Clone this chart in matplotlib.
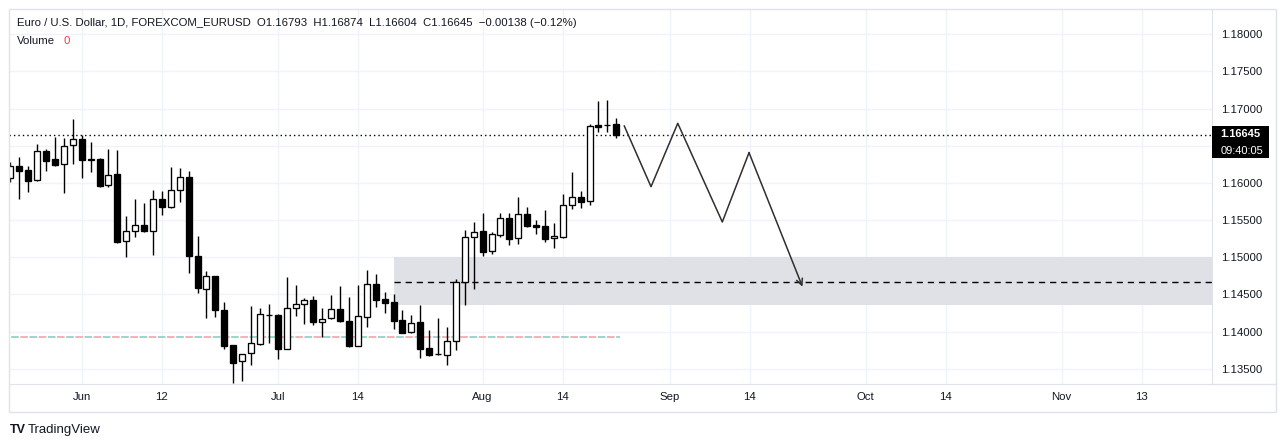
import numpy as np
import pandas as pd
import matplotlib
matplotlib.use('Agg')
import matplotlib.pyplot as plt
import matplotlib.transforms as mtransforms
from matplotlib.patches import Rectangle
from matplotlib.lines import Line2D

# daily bars, first one on 2026-05-20 (business days)
first_day = '2026-05-20'
opens = [1.16066, 1.16228, 1.16174, 1.16035, 1.16426, 1.16318, 1.16251, 1.16506,
         1.16587, 1.16318, 1.16318, 1.15968, 1.16120, 1.15214, 1.15349, 1.15430,
         1.15349, 1.15780, 1.15672, 1.15905, 1.16076, 1.15013, 1.14568, 1.14743,
         1.14286, 1.13819, 1.13600, 1.13707, 1.13836, 1.14219, 1.14223, 1.13769,
         1.14313, 1.14367, 1.14420, 1.14124, 1.14178, 1.14299, 1.14142, 1.13810,
         1.14192, 1.14640, 1.14434, 1.14398, 1.14155, 1.13990, 1.14128, 1.13775,
         1.13694, 1.13678, 1.13873, 1.14671, 1.15272, 1.15349, 1.15084, 1.15303,
         1.15528, 1.15255, 1.15578, 1.15434, 1.15420, 1.15259, 1.15276, 1.15699,
         1.15811, 1.15753, 1.16779, 1.16773, 1.16793]
highs = [1.16282, 1.16345, 1.16232, 1.16524, 1.16456, 1.16622, 1.16600, 1.16860,
         1.16645, 1.16551, 1.16331, 1.16456, 1.16443, 1.15555, 1.15784, 1.15730,
         1.15905, 1.15891, 1.16214, 1.16201, 1.16160, 1.15286, 1.14815, 1.14748,
         1.14398, 1.13825, 1.13698, 1.14344, 1.14313, 1.14371, 1.14232, 1.14734,
         1.14626, 1.14451, 1.14478, 1.14313, 1.14492, 1.14613, 1.14465, 1.14630,
         1.14828, 1.14770, 1.14532, 1.14509, 1.14290, 1.14219, 1.14357, 1.14021,
         1.14178, 1.14057, 1.14703, 1.15366, 1.15470, 1.15591, 1.15336, 1.15595,
         1.15591, 1.15807, 1.15676, 1.15501, 1.15636, 1.15457, 1.15847, 1.16147,
         1.15891, 1.16789, 1.17102, 1.17116, 1.16874]
lows = [1.16012, 1.15780, 1.15882, 1.16030, 1.16164, 1.16232, 1.15868, 1.16259,
        1.16070, 1.16143, 1.15949, 1.15949, 1.15188, 1.15007, 1.15276, 1.15345,
        1.15034, 1.15572, 1.15668, 1.15747, 1.14792, 1.14523, 1.14186, 1.14200,
        1.13765, 1.13304, 1.13339, 1.13554, 1.13823, 1.13842, 1.13634, 1.13761,
        1.14213, 1.14102, 1.14092, 1.13922, 1.14174, 1.14128, 1.13788, 1.13801,
        1.14065, 1.14326, 1.14250, 1.14034, 1.13980, 1.13976, 1.13644, 1.13671,
        1.13690, 1.13543, 1.13752, 1.14353, 1.14568, 1.15013, 1.15040, 1.15276,
        1.15161, 1.15182, 1.15411, 1.15317, 1.15209, 1.15128, 1.15263, 1.15653,
        1.15667, 1.15707, 1.16685, 1.16685, 1.16604]
closes = [1.16228, 1.16164, 1.16030, 1.16426, 1.16299, 1.16245, 1.16493, 1.16587,
          1.16312, 1.16312, 1.15963, 1.16103, 1.15209, 1.15349, 1.15430, 1.15349,
          1.15780, 1.15672, 1.15901, 1.16076, 1.15013, 1.14582, 1.14743, 1.14286,
          1.13810, 1.13581, 1.13694, 1.13842, 1.14232, 1.14222, 1.13769, 1.14313,
          1.14367, 1.14420, 1.14124, 1.14165, 1.14299, 1.14138, 1.13810, 1.14205,
          1.14640, 1.14429, 1.14388, 1.14146, 1.13984, 1.14111, 1.13769, 1.13688,
          1.13696, 1.13866, 1.14671, 1.15268, 1.15344, 1.15074, 1.15309, 1.15524,
          1.15241, 1.15578, 1.15424, 1.15411, 1.15249, 1.15286, 1.15699, 1.15807,
          1.15747, 1.16766, 1.16757, 1.16779, 1.16645]

tick_dates = ['2026-06-01', '2026-06-12', '2026-07-01', '2026-07-14', '2026-08-03',
              '2026-08-14', '2026-09-01', '2026-09-14', '2026-10-01', '2026-10-14',
              '2026-11-02', '2026-11-13']
tick_labels = ['Jun', '12', 'Jul', '14', 'Aug', '14', 'Sep', '14', 'Oct', '14', 'Nov', '13']
price_ticks = [1.135, 1.140, 1.145, 1.150, 1.155, 1.160, 1.165, 1.170, 1.175, 1.180]
# 1.16500 sits under the last-price box, so it has no visible label
price_labels = ['1.13500', '1.14000', '1.14500', '1.15000', '1.15500', '1.16000',
                '', '1.17000', '1.17500', '1.18000']

last_price = 1.16645
countdown = '09:40:05'
header = ('Euro / U.S. Dollar, 1D, FOREXCOM_EURUSD  O1.16793  H1.16874  '
          'L1.16604  C1.16645  \u22120.00138 (\u22120.12%)')

# drawings (x in bar positions)
zone_top, zone_bottom, zone_mid = 1.15000, 1.14357, 1.14671
zone_start = 43
level_price = 1.13922
level_end = 68.4
proj_x = [68.9, 71.9, 74.9, 79.9, 82.9, 88.9]
proj_y = [1.16766, 1.15949, 1.16802, 1.15474, 1.16407, 1.14603]

W, H = 1286, 447
TXT = '#131722'
GRID = '#f0f3fa'
BORDER = '#e0e3eb'
plt.rcParams['font.family'] = ['Liberation Sans', 'DejaVu Sans']

days = pd.bdate_range(first_day, periods=200)
x = np.arange(len(opens))
tick_pos = days.get_indexer(pd.to_datetime(tick_dates))

fig = plt.figure(figsize=(W / 100, H / 100), dpi=100)
ax = fig.add_axes([9.3 / W, 1 - 384.3 / H, (1212.3 - 9.3) / W, (384.3 - 9) / H])
ax.set_xlim(-0.13, 134.9)
ax.set_ylim(1.13290, 1.18340)

# grid
for t in tick_pos:
    ax.axvline(t, color=GRID, lw=1, zorder=0)
for p in price_ticks:
    ax.axhline(p, color=GRID, lw=1, zorder=0)

# zone + level lines
ax.add_patch(Rectangle((zone_start, zone_bottom), 200, zone_top - zone_bottom,
                       facecolor='#e0e1e6', edgecolor='none', zorder=1))
ax.plot([zone_start, 200], [zone_mid, zone_mid], color='black', lw=1,
        ls=(0, (4.5, 3.5)), zorder=2)
ax.plot([-1, level_end], [level_price] * 2, color='#f29ca3', lw=1.1,
        ls=(0, (5, 7)), zorder=2)
ax.plot([-1, level_end], [level_price] * 2, color='#7fcbbb', lw=1.1,
        ls=(6, (5, 7)), zorder=2)
ax.axhline(last_price, color='black', lw=1, ls=(0, (1, 2.2)), zorder=2)

# candles
o = np.array(opens)
c = np.array(closes)
up = c >= o
ax.vlines(x, lows, highs, color='black', lw=1.0, zorder=3)
bottoms = np.minimum(o, c)
heights = np.maximum(np.abs(c - o), 0.00002)
ax.bar(x[up], heights[up], bottom=bottoms[up], width=0.68,
       facecolor='white', edgecolor='black', lw=0.95, zorder=4)
ax.bar(x[~up], heights[~up], bottom=bottoms[~up], width=0.68,
       facecolor='black', edgecolor='black', lw=0.95, zorder=4)

# projection path
ax.plot(proj_x[:-1], proj_y[:-1], color='#2f2f2f', lw=1.1, zorder=5)
ax.annotate('', xy=(proj_x[-1], proj_y[-1]), xytext=(proj_x[-2], proj_y[-2]),
            arrowprops=dict(arrowstyle='->,head_length=0.45,head_width=0.22',
                            color='#2f2f2f', lw=1.1, shrinkA=0, shrinkB=0),
            zorder=5)

# axes styling
for s in ['top', 'left']:
    ax.spines[s].set_visible(False)
ax.spines['bottom'].set_color(BORDER)
ax.spines['right'].set_color(BORDER)
ax.yaxis.tick_right()
ax.set_yticks(price_ticks)
ax.set_yticklabels(price_labels)
ax.set_xticks(tick_pos)
ax.set_xticklabels(tick_labels)
ax.tick_params(axis='y', length=0, pad=6, labelsize=8.2, labelcolor=TXT)
ax.tick_params(axis='x', length=0, pad=5.5, labelsize=8.2, labelcolor=TXT)

# last price label
trans = mtransforms.blended_transform_factory(ax.transAxes, ax.transData)
px_price = (1.18340 - 1.13290) / (384.3 - 9)
ax.add_patch(Rectangle((1.0, last_price - 23.5 * px_price), 57 / 1203,
                       32 * px_price, transform=trans, facecolor='black',
                       edgecolor='none', clip_on=False, zorder=6))
ax.text(1.0 + 8.4 / 1203, last_price + 0.5 * px_price, f'{last_price:.5f}',
        transform=trans, color='white', fontsize=8.0, fontweight='bold',
        va='center', ha='left', zorder=7, clip_on=False)
ax.text(1.0 + 8.4 / 1203, last_price - 16 * px_price, countdown,
        transform=trans, color='white', fontsize=8.0, va='center',
        ha='left', zorder=7, clip_on=False)

# frame around chart panel
fig.add_artist(Rectangle((9 / W, 1 - 412 / H), (1276 - 9) / W, (412 - 9) / H,
                         transform=fig.transFigure, fill=False,
                         edgecolor=BORDER, lw=1))
fig.add_artist(Line2D([1212.3 / W, 1276 / W], [1 - 384.3 / H] * 2,
                      transform=fig.transFigure, color=BORDER, lw=1))

# header
fig.text(17 / W, 1 - 23 / H, header, fontsize=8.2, color=TXT, va='center')
fig.text(17 / W, 1 - 41 / H, 'Volume', fontsize=8.2, color=TXT, va='center')
fig.text(63 / W, 1 - 41 / H, '0', fontsize=8.2, color='#f23645', va='center')

# footer
fig.text(10 / W, 1 - 430 / H, 'TV', fontsize=9, fontweight='black',
         color=TXT, va='center')
fig.text(28 / W, 1 - 430 / H, 'TradingView', fontsize=9.5, color=TXT,
         va='center')

fig.savefig('out.png', dpi=100)
